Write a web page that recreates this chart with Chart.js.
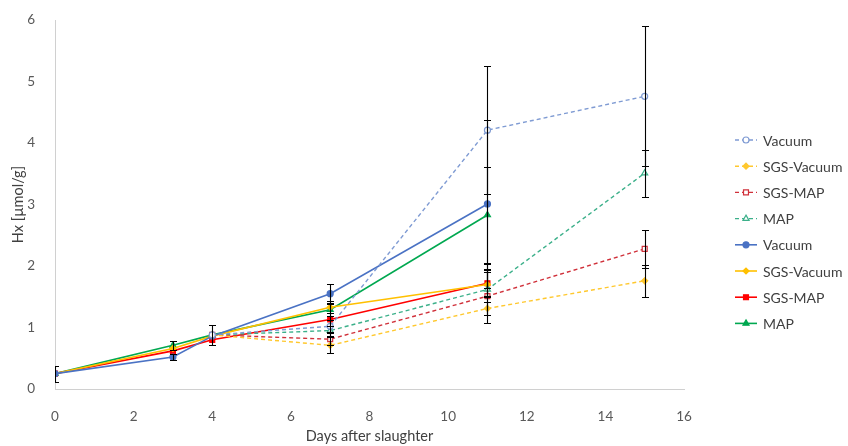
<!DOCTYPE html>
<html>
<head>
<meta charset="utf-8">
<script src="https://cdn.jsdelivr.net/npm/chart.js@4/dist/chart.umd.min.js"></script>
<style>
  html,body{margin:0;padding:0;background:#fff}
  #wrap{width:848px;height:446px}
</style>
</head>
<body>
<div id="wrap"><canvas id="hxChart" width="848" height="446"></canvas></div>
<script>
'use strict'
// sampling days
let days=[0,3,4,7,11,15]

// Hx means, dashed groups
let vacuumD=[null,null,0.88,1.02,4.21,4.76]
let sgsVacuumD=[null,null,0.88,0.71,1.31,1.76]
let sgsMapD=[null,null,0.88,0.81,1.51,2.28]
let mapD=[null,null,0.88,0.95,1.62,3.51]
// Hx means, solid groups
let vacuum=[0.25,0.52,0.86,1.55,3.01,null]
let sgsVacuum=[0.25,0.66,0.86,1.33,1.70,null]
let sgsMap=[0.25,0.62,0.80,1.13,1.72,null]
let map=[0.25,0.71,0.88,1.29,2.83,null]

// standard deviations
let vacuumDErr=[null,null,null,0.10,1.04,1.14]
let sgsVacuumDErr=[null,null,null,0.13,0.10,0.26]
let sgsMapDErr=[null,null,null,0.10,0.44,0.31]
let mapDErr=[null,null,0.16,0.08,0.41,0.38]
let vacuumErr=[null,0.05,null,0.15,1.36,null]
let sgsVacuumErr=[null,null,null,0.10,0.20,null]
let sgsMapErr=[null,null,null,0.10,0.21,null]
let mapErr=[0.13,0.07,null,0.10,0.78,null]

let labels=['Vacuum','SGS-Vacuum','SGS-MAP','MAP','Vacuum','SGS-Vacuum','SGS-MAP','MAP']

function pts(vals,errs){
  let out=[]
  for (let i = 0; i < days.length; i++) {
    if(vals[i]!=null) out.push({x:days[i],y:vals[i],err:errs[i]})
  }
  return out
}

function series(label,vals,errs,color,style,open,dashed,r){
  return {
    label:label,
    data:pts(vals,errs),
    borderColor:color,
    backgroundColor:open?'#ffffff':color,
    pointBorderColor:color,
    pointBackgroundColor:open?'#ffffff':color,
    pointStyle:style,
    pointRadius:r,
    pointBorderWidth:1.2,
    borderWidth:dashed?1.4:1.6,
    borderDash:dashed?[4,3]:[],
    tension:0,
    fill:false
  }
}

let datasets=[
  series(labels[0],vacuumD,vacuumDErr,'#7f9bd3','circle',true,true,3),
  series(labels[1],sgsVacuumD,sgsVacuumDErr,'#ffc82e','rectRot',false,true,3),
  series(labels[2],sgsMapD,sgsMapDErr,'#d0303a','rect',true,true,3.5),
  series(labels[3],mapD,mapDErr,'#3cb08a','triangle',true,true,3.5),
  series(labels[4],vacuum,vacuumErr,'#4a72c4','circle',false,false,3),
  series(labels[5],sgsVacuum,sgsVacuumErr,'#ffc000','rectRot',false,false,3),
  series(labels[6],sgsMap,sgsMapErr,'#ff0000','rect',false,false,3.5),
  series(labels[7],map,mapErr,'#00a850','triangle',false,false,3.5)
]

// black error bars with caps, clipped to the plot area
const errorBars={
  id:'errorBars',
  afterDatasetsDraw(chart){
    let ctx=chart.ctx
    let ys=chart.scales.y, xs=chart.scales.x
    let a=chart.chartArea
    ctx.save()
    ctx.beginPath()
    ctx.rect(a.left,0,a.right-a.left,chart.height)
    ctx.clip()
    ctx.strokeStyle='#000'
    ctx.lineWidth=1.1
    chart.data.datasets.forEach(ds=>{
      ds.data.forEach(p=>{
        if(p.err==null) return
        let px=Math.round(xs.getPixelForValue(p.x))+0.5
        let top=Math.round(ys.getPixelForValue(p.y+p.err))+0.5
        let bot=Math.round(ys.getPixelForValue(p.y-p.err))+0.5
        ctx.beginPath()
        ctx.moveTo(px,top);ctx.lineTo(px,bot)
        ctx.moveTo(px-3.5,top);ctx.lineTo(px+3.5,top)
        ctx.moveTo(px-3.5,bot);ctx.lineTo(px+3.5,bot)
        ctx.stroke()
      })
    })
    ctx.restore()
  }
}

// legend with line sample + marker
const sideLegend={
  id:'sideLegend',
  afterDraw(chart){
    let ctx=chart.ctx
    ctx.save()
    let x0=735, y0=140, step=26.2
    chart.data.datasets.forEach((ds,i)=>{
      let y=y0+i*step
      ctx.strokeStyle=ds.borderColor
      ctx.lineWidth=ds.borderWidth
      ctx.setLineDash(ds.borderDash)
      ctx.beginPath();ctx.moveTo(x0,y);ctx.lineTo(x0+22,y);ctx.stroke()
      ctx.setLineDash([])
      ctx.fillStyle=ds.pointBackgroundColor
      ctx.strokeStyle=ds.pointBorderColor
      ctx.lineWidth=1.2
      Chart.helpers.drawPoint(ctx,{pointStyle:ds.pointStyle,radius:ds.pointRadius,borderWidth:1.2,rotation:0},x0+11,y)
      ctx.fillStyle='#404040'
      ctx.font='14px Lato, "Open Sans", sans-serif'
      ctx.textBaseline='middle'
      ctx.fillText(ds.label,x0+28,y+1)
    })
    ctx.restore()
  }
}

let ctx=document.getElementById('hxChart').getContext('2d')
let hxChart=new Chart(ctx,{
  type:'line',
  data:{datasets:datasets},
  plugins:[errorBars,sideLegend],
  options:{
    responsive:false,
    animation:false,
    layout:{padding:{left:0,right:164,top:18,bottom:0}},
    plugins:{legend:{display:false},tooltip:{enabled:false}},
    scales:{
      x:{
        type:'linear',min:0,max:16,
        grid:{display:false},
        border:{display:true,color:'#d0d0d0',width:1},
        ticks:{stepSize:2,color:'#595959',font:{size:13.5,family:'Lato, "Open Sans", sans-serif'},padding:12},
        title:{display:true,text:'Days after slaughter',color:'#404040',font:{size:14.5,family:'Lato, "Open Sans", sans-serif'},padding:{top:2,bottom:1}},
        afterFit(s){s.height=57}
      },
      y:{
        min:0,max:6,
        grid:{display:false},
        border:{display:true,color:'#d0d0d0',width:1},
        ticks:{stepSize:1,color:'#595959',font:{size:13.5,family:'Lato, "Open Sans", sans-serif'},padding:12},
        title:{display:true,text:'Hx [µmol/g]',color:'#404040',font:{size:14.5,family:'Lato, "Open Sans", sans-serif'},padding:{top:10,bottom:0}},
        afterFit(s){s.width=55}
      }
    }
  }
})
</script>
</body>
</html>
